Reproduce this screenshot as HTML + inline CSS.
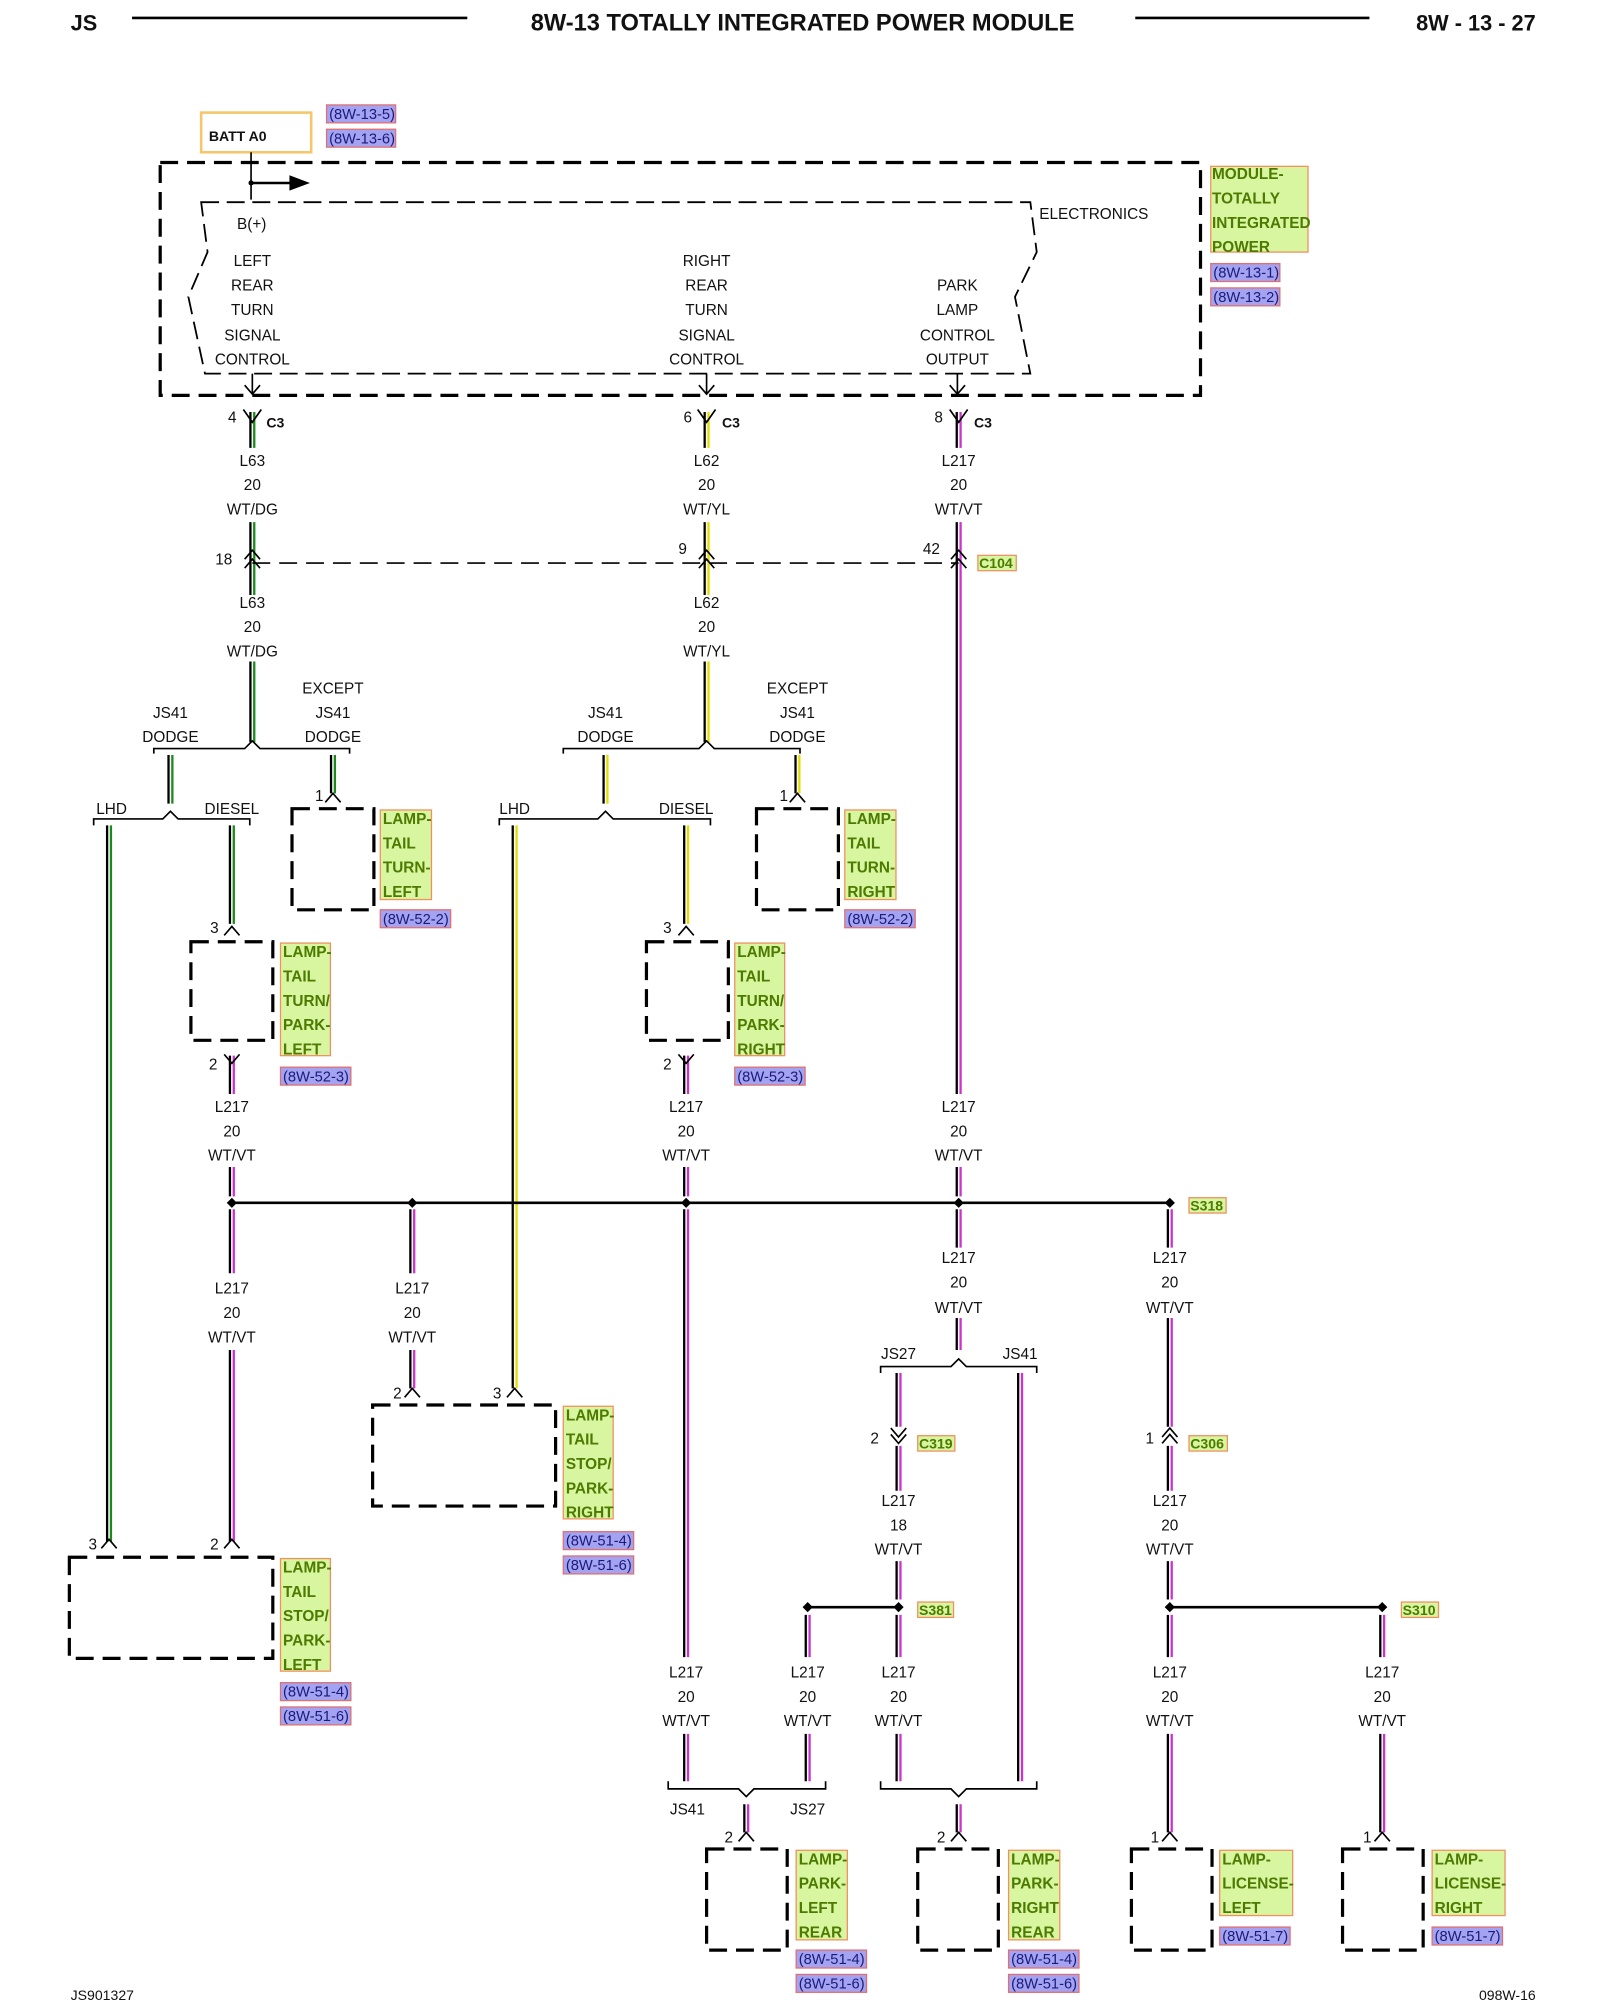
<!DOCTYPE html>
<html><head><meta charset="utf-8">
<style>
html,body{margin:0;padding:0;background:#fff;}
svg{display:block;}
text{font-family:"Liberation Sans",Arial,sans-serif;font-size:12px;fill:#111;}
.c{text-anchor:middle;}
.b{font-weight:bold;}
.lbl{fill:#4d7a00;font-weight:bold;font-size:12px;}
.ref{fill:#1a1a7a;font-size:11.5px;}
.box{fill:none;stroke:#000;stroke-width:2.5;stroke-dasharray:14 7;}
.pin{fill:none;stroke:#000;stroke-width:1.3;}
.ln{stroke:#000;stroke-width:2;fill:none;}
.thin{stroke:#000;stroke-width:1.3;fill:none;}
</style></head>
<body>
<svg width="1600" height="2000" viewBox="0 0 1250 1563" xmlns="http://www.w3.org/2000/svg">
<rect width="1250" height="1563" fill="#fff"/>
<!-- header -->
<text x="55" y="24" class="b" style="font-size:17px">JS</text>
<line x1="103" y1="14" x2="365" y2="14" class="ln" stroke-width="2.5"/>
<text x="627" y="24" class="b c" style="font-size:18.5px">8W-13 TOTALLY INTEGRATED POWER MODULE</text>
<line x1="887" y1="14" x2="1070" y2="14" class="ln" stroke-width="2.5"/>
<text x="1200" y="24" class="b" text-anchor="end" style="font-size:17px">8W - 13 - 27</text>

<!-- BATT -->
<rect x="157" y="88" width="86" height="31" fill="none" stroke="#f5c66a" stroke-width="2"/>
<text x="163" y="110" class="b" style="font-size:11px">BATT A0</text>
<g>
<rect x="255" y="82" width="54" height="14" fill="#a3a3f2" stroke="#e07070"/>
<text x="257" y="93" class="ref">(8W-13-5)</text>
<rect x="255" y="101" width="54" height="14" fill="#a3a3f2" stroke="#e07070"/>
<text x="257" y="112" class="ref">(8W-13-6)</text>
</g>

<!-- main module box -->
<rect x="125" y="127" width="813" height="182" class="box"/>
<line x1="196" y1="119" x2="196" y2="156" class="thin"/>
<line x1="196" y1="143" x2="228" y2="143" class="ln"/>
<path d="M226 137 L242 143 L226 149 Z" fill="#000"/>
<circle cx="196" cy="143" r="2" fill="#000"/>
<path d="M157 158 L805 158 L810 197 L793 232 L805 292 L160 292 L147 232 L162 197 Z" fill="none" stroke="#000" stroke-width="1.4" stroke-dasharray="14 6"/>
<text x="812" y="171">ELECTRONICS</text>
<text x="185" y="179">B(+)</text>
<g class="c">
<text x="197" y="208" class="c">LEFT</text><text x="197" y="227" class="c">REAR</text><text x="197" y="246" class="c">TURN</text><text x="197" y="266" class="c">SIGNAL</text><text x="197" y="285" class="c">CONTROL</text>
<text x="552" y="208" class="c">RIGHT</text><text x="552" y="227" class="c">REAR</text><text x="552" y="246" class="c">TURN</text><text x="552" y="266" class="c">SIGNAL</text><text x="552" y="285" class="c">CONTROL</text>
<text x="748" y="227" class="c">PARK</text><text x="748" y="246" class="c">LAMP</text><text x="748" y="266" class="c">CONTROL</text><text x="748" y="285" class="c">OUTPUT</text>
</g>
<path d="M197 292 V308 M191 301 L197 308 L203 301 M552 292 V308 M546 301 L552 308 L558 301 M748 292 V308 M742 301 L748 308 L754 301" class="thin"/>

<!-- module label -->
<rect x="946" y="130" width="76" height="67" fill="#d8f5a0" stroke="#f09060"/>
<text x="947" y="140" class="lbl">MODULE-</text><text x="947" y="159" class="lbl">TOTALLY</text><text x="947" y="178" class="lbl">INTEGRATED</text><text x="947" y="197" class="lbl">POWER</text>
<rect x="946" y="206" width="54" height="14" fill="#a3a3f2" stroke="#e07070"/><text x="948" y="217" class="ref">(8W-13-1)</text>
<rect x="946" y="225" width="54" height="14" fill="#a3a3f2" stroke="#e07070"/><text x="948" y="236" class="ref">(8W-13-2)</text>

<!-- wires -->
<g stroke-width="1.8" fill="none">
<g stroke="#1a8a1a"><g id="dg" transform="translate(1.5 0)">
<path d="M197 322V350M197 408V465M197 517V580M133 590V628M85 645V1205M181 645V722M260 590V620"/>
</g></g>
<g stroke="#e4dc00"><g id="yl" transform="translate(1.5 0)">
<path d="M552 322V350M552 408V465M552 517V580M473 590V628M402 645V1085M536 645V722M623 590V620"/>
</g></g>
<g stroke="#cc33cc"><g id="vt" transform="translate(1.5 0)">
<path d="M749 322V350M749 408V855M749 912V935M749 945V975M749 1030V1055M181 825V855M181 912V935M181 945V995M181 1055V1205M322 945V995M322 1055V1085M536 825V855M536 912V935M536 945V1295M536 1355V1392M583 1410V1432M631 1262V1295M631 1355V1392M702 1073V1115M702 1130V1165M702 1220V1250M702 1262V1295M702 1355V1392M797 1073V1392M749 1410V1432M914 945V975M914 1030V1115M914 1130V1165M914 1220V1250M914 1262V1295M914 1355V1432M1080 1262V1295M1080 1355V1432"/>
</g></g>
<use href="#dg" stroke="#000" transform="translate(-3 0)"/>
<use href="#yl" stroke="#000" transform="translate(-3 0)"/>
<use href="#vt" stroke="#000" transform="translate(-3 0)"/>
</g>

<!-- C3 pins -->
<path d="M190 320 L197 330 L204 320 M545 320 L552 330 L559 320 M742 320 L749 330 L756 320" class="pin"/>
<text x="178" y="330">4</text><text x="208" y="334" class="b" style="font-size:11px">C3</text>
<text x="534" y="330">6</text><text x="564" y="334" class="b" style="font-size:11px">C3</text>
<text x="730" y="330">8</text><text x="761" y="334" class="b" style="font-size:11px">C3</text>

<g>
<text x="197" y="364" class="c">L63</text><text x="197" y="383" class="c">20</text><text x="197" y="402" class="c">WT/DG</text>
<text x="552" y="364" class="c">L62</text><text x="552" y="383" class="c">20</text><text x="552" y="402" class="c">WT/YL</text>
<text x="749" y="364" class="c">L217</text><text x="749" y="383" class="c">20</text><text x="749" y="402" class="c">WT/VT</text>
<text x="197" y="475" class="c">L63</text><text x="197" y="494" class="c">20</text><text x="197" y="513" class="c">WT/DG</text>
<text x="552" y="475" class="c">L62</text><text x="552" y="494" class="c">20</text><text x="552" y="513" class="c">WT/YL</text>
</g>

<!-- C104 -->
<line x1="197" y1="440" x2="749" y2="440" class="thin" stroke-dasharray="14 7"/>
<path d="M191 437 L197 430 L203 437 M191 444 L197 437 L203 444 M546 437 L552 430 L558 437 M546 444 L552 437 L558 444 M743 437 L749 430 L755 437 M743 444 L749 437 L755 444" class="pin"/>
<text x="168" y="441">18</text><text x="530" y="433">9</text><text x="721" y="433">42</text>
<rect x="764" y="434" width="30" height="12" fill="#d8f5a0" stroke="#f09060"/><text x="765" y="444" class="lbl" style="font-size:11px">C104</text>

<path d="M120 589 V585 H191 L197 579 L203 585 H273 V589" class="thin"/>
<path d="M440 589 V585 H546 L552 579 L558 585 H625 V589" class="thin"/>
<path d="M73 645 V640 H127 L133 634 L139 640 H195 V645" class="thin"/>
<path d="M390 645 V640 H467 L473 634 L479 640 H555 V645" class="thin"/>
<text x="133" y="561" class="c">JS41</text><text x="133" y="580" class="c">DODGE</text>
<text x="260" y="542" class="c">EXCEPT</text><text x="260" y="561" class="c">JS41</text><text x="260" y="580" class="c">DODGE</text>
<text x="473" y="561" class="c">JS41</text><text x="473" y="580" class="c">DODGE</text>
<text x="623" y="542" class="c">EXCEPT</text><text x="623" y="561" class="c">JS41</text><text x="623" y="580" class="c">DODGE</text>
<text x="87" y="636" class="c">LHD</text><text x="181" y="636" class="c">DIESEL</text>
<text x="402" y="636" class="c">LHD</text><text x="536" y="636" class="c">DIESEL</text>

<path d="M254 627 L260 620 L266 627 M617 627 L623 620 L629 627 M175 731 L181 724 L187 731 M530 731 L536 724 L542 731 M175 824 L181 831 L187 824 M530 824 L536 831 L542 824 M316 1092 L322 1085 L328 1092 M396 1092 L402 1085 L408 1092 M79 1210 L85 1203 L91 1210 M175 1210 L181 1203 L187 1210 M577 1439 L583 1432 L589 1439 M743 1439 L749 1432 L755 1439 M908 1439 L914 1432 L920 1439 M1074 1439 L1080 1432 L1086 1439" class="pin"/>
<text x="246" y="626">1</text><text x="609" y="626">1</text>
<text x="164" y="729">3</text><text x="518" y="729">3</text>
<text x="163" y="836">2</text><text x="518" y="836">2</text>
<text x="307" y="1093">2</text><text x="385" y="1093">3</text>
<text x="69" y="1211">3</text><text x="164" y="1211">2</text>
<text x="566" y="1440">2</text><text x="732" y="1440">2</text><text x="899" y="1440">1</text><text x="1065" y="1440">1</text>

<rect x="228" y="632" width="64" height="79" class="box"/>
<rect x="591" y="632" width="64" height="79" class="box"/>
<rect x="149" y="736" width="64" height="77" class="box"/>
<rect x="505" y="736" width="64" height="77" class="box"/>
<rect x="291" y="1098" width="143" height="79" class="box"/>
<rect x="54" y="1217" width="159" height="79" class="box"/>
<rect x="552" y="1445" width="63" height="79" class="box"/>
<rect x="717" y="1445" width="63" height="79" class="box"/>
<rect x="884" y="1445" width="63" height="79" class="box"/>
<rect x="1049" y="1445" width="63" height="79" class="box"/>

<g>
<rect x="297" y="633" width="40" height="70" fill="#d8f5a0" stroke="#f09060"/>
<text x="299" y="644" class="lbl">LAMP-</text><text x="299" y="663" class="lbl">TAIL</text><text x="299" y="682" class="lbl">TURN-</text><text x="299" y="701" class="lbl">LEFT</text>
<rect x="297" y="711" width="55" height="14" fill="#a3a3f2" stroke="#e07070"/><text x="299" y="722" class="ref">(8W-52-2)</text>

<rect x="660" y="633" width="40" height="70" fill="#d8f5a0" stroke="#f09060"/>
<text x="662" y="644" class="lbl">LAMP-</text><text x="662" y="663" class="lbl">TAIL</text><text x="662" y="682" class="lbl">TURN-</text><text x="662" y="701" class="lbl">RIGHT</text>
<rect x="660" y="711" width="55" height="14" fill="#a3a3f2" stroke="#e07070"/><text x="662" y="722" class="ref">(8W-52-2)</text>

<rect x="219" y="737" width="39" height="88" fill="#d8f5a0" stroke="#f09060"/>
<text x="221" y="748" class="lbl">LAMP-</text><text x="221" y="767" class="lbl">TAIL</text><text x="221" y="786" class="lbl">TURN/</text><text x="221" y="805" class="lbl">PARK-</text><text x="221" y="824" class="lbl">LEFT</text>
<rect x="219" y="834" width="55" height="14" fill="#a3a3f2" stroke="#e07070"/><text x="221" y="845" class="ref">(8W-52-3)</text>

<rect x="574" y="737" width="39" height="88" fill="#d8f5a0" stroke="#f09060"/>
<text x="576" y="748" class="lbl">LAMP-</text><text x="576" y="767" class="lbl">TAIL</text><text x="576" y="786" class="lbl">TURN/</text><text x="576" y="805" class="lbl">PARK-</text><text x="576" y="824" class="lbl">RIGHT</text>
<rect x="574" y="834" width="55" height="14" fill="#a3a3f2" stroke="#e07070"/><text x="576" y="845" class="ref">(8W-52-3)</text>

<rect x="440" y="1099" width="39" height="88" fill="#d8f5a0" stroke="#f09060"/>
<text x="442" y="1110" class="lbl">LAMP-</text><text x="442" y="1129" class="lbl">TAIL</text><text x="442" y="1148" class="lbl">STOP/</text><text x="442" y="1167" class="lbl">PARK-</text><text x="442" y="1186" class="lbl">RIGHT</text>
<rect x="440" y="1197" width="55" height="14" fill="#a3a3f2" stroke="#e07070"/><text x="442" y="1208" class="ref">(8W-51-4)</text>
<rect x="440" y="1216" width="55" height="14" fill="#a3a3f2" stroke="#e07070"/><text x="442" y="1227" class="ref">(8W-51-6)</text>

<rect x="219" y="1218" width="39" height="88" fill="#d8f5a0" stroke="#f09060"/>
<text x="221" y="1229" class="lbl">LAMP-</text><text x="221" y="1248" class="lbl">TAIL</text><text x="221" y="1267" class="lbl">STOP/</text><text x="221" y="1286" class="lbl">PARK-</text><text x="221" y="1305" class="lbl">LEFT</text>
<rect x="219" y="1315" width="55" height="14" fill="#a3a3f2" stroke="#e07070"/><text x="221" y="1326" class="ref">(8W-51-4)</text>
<rect x="219" y="1334" width="55" height="14" fill="#a3a3f2" stroke="#e07070"/><text x="221" y="1345" class="ref">(8W-51-6)</text>

<rect x="622" y="1446" width="40" height="70" fill="#d8f5a0" stroke="#f09060"/>
<text x="624" y="1457" class="lbl">LAMP-</text><text x="624" y="1476" class="lbl">PARK-</text><text x="624" y="1495" class="lbl">LEFT</text><text x="624" y="1514" class="lbl">REAR</text>
<rect x="622" y="1524" width="55" height="14" fill="#a3a3f2" stroke="#e07070"/><text x="624" y="1535" class="ref">(8W-51-4)</text>
<rect x="622" y="1543" width="55" height="14" fill="#a3a3f2" stroke="#e07070"/><text x="624" y="1554" class="ref">(8W-51-6)</text>

<rect x="788" y="1446" width="40" height="70" fill="#d8f5a0" stroke="#f09060"/>
<text x="790" y="1457" class="lbl">LAMP-</text><text x="790" y="1476" class="lbl">PARK-</text><text x="790" y="1495" class="lbl">RIGHT</text><text x="790" y="1514" class="lbl">REAR</text>
<rect x="788" y="1524" width="55" height="14" fill="#a3a3f2" stroke="#e07070"/><text x="790" y="1535" class="ref">(8W-51-4)</text>
<rect x="788" y="1543" width="55" height="14" fill="#a3a3f2" stroke="#e07070"/><text x="790" y="1554" class="ref">(8W-51-6)</text>

<rect x="953" y="1446" width="57" height="51" fill="#d8f5a0" stroke="#f09060"/>
<text x="955" y="1457" class="lbl">LAMP-</text><text x="955" y="1476" class="lbl">LICENSE-</text><text x="955" y="1495" class="lbl">LEFT</text>
<rect x="953" y="1506" width="55" height="14" fill="#a3a3f2" stroke="#e07070"/><text x="955" y="1517" class="ref">(8W-51-7)</text>

<rect x="1119" y="1446" width="57" height="51" fill="#d8f5a0" stroke="#f09060"/>
<text x="1121" y="1457" class="lbl">LAMP-</text><text x="1121" y="1476" class="lbl">LICENSE-</text><text x="1121" y="1495" class="lbl">RIGHT</text>
<rect x="1119" y="1506" width="55" height="14" fill="#a3a3f2" stroke="#e07070"/><text x="1121" y="1517" class="ref">(8W-51-7)</text>
</g>

<g>
<text x="181" y="869" class="c">L217</text><text x="181" y="888" class="c">20</text><text x="181" y="907" class="c">WT/VT</text>
<text x="536" y="869" class="c">L217</text><text x="536" y="888" class="c">20</text><text x="536" y="907" class="c">WT/VT</text>
<text x="749" y="869" class="c">L217</text><text x="749" y="888" class="c">20</text><text x="749" y="907" class="c">WT/VT</text>
<text x="181" y="1011" class="c">L217</text><text x="181" y="1030" class="c">20</text><text x="181" y="1049" class="c">WT/VT</text>
<text x="322" y="1011" class="c">L217</text><text x="322" y="1030" class="c">20</text><text x="322" y="1049" class="c">WT/VT</text>
<text x="749" y="987" class="c">L217</text><text x="749" y="1006" class="c">20</text><text x="749" y="1026" class="c">WT/VT</text>
<text x="914" y="987" class="c">L217</text><text x="914" y="1006" class="c">20</text><text x="914" y="1026" class="c">WT/VT</text>
<text x="702" y="1177" class="c">L217</text><text x="702" y="1196" class="c">18</text><text x="702" y="1215" class="c">WT/VT</text>
<text x="914" y="1177" class="c">L217</text><text x="914" y="1196" class="c">20</text><text x="914" y="1215" class="c">WT/VT</text>
<text x="536" y="1311" class="c">L217</text><text x="536" y="1330" class="c">20</text><text x="536" y="1349" class="c">WT/VT</text>
<text x="631" y="1311" class="c">L217</text><text x="631" y="1330" class="c">20</text><text x="631" y="1349" class="c">WT/VT</text>
<text x="702" y="1311" class="c">L217</text><text x="702" y="1330" class="c">20</text><text x="702" y="1349" class="c">WT/VT</text>
<text x="914" y="1311" class="c">L217</text><text x="914" y="1330" class="c">20</text><text x="914" y="1349" class="c">WT/VT</text>
<text x="1080" y="1311" class="c">L217</text><text x="1080" y="1330" class="c">20</text><text x="1080" y="1349" class="c">WT/VT</text>
</g>

<line x1="181" y1="940" x2="914" y2="940" class="ln"/>
<line x1="631" y1="1256" x2="702" y2="1256" class="ln"/>
<line x1="914" y1="1256" x2="1080" y2="1256" class="ln"/>
<g fill="#000">
<path d="M181 936 L185 940 L181 944 L177 940Z M322 936 L326 940 L322 944 L318 940Z M536 936 L540 940 L536 944 L532 940Z M749 936 L753 940 L749 944 L745 940Z M914 936 L918 940 L914 944 L910 940Z M631 1252 L635 1256 L631 1260 L627 1256Z M702 1252 L706 1256 L702 1260 L698 1256Z M914 1252 L918 1256 L914 1260 L910 1256Z M1080 1252 L1084 1256 L1080 1260 L1076 1256Z"/>
</g>
<rect x="929" y="936" width="29" height="12" fill="#d8f5a0" stroke="#f09060"/><text x="930" y="946" class="lbl" style="font-size:11px">S318</text>
<rect x="717" y="1252" width="28" height="12" fill="#d8f5a0" stroke="#f09060"/><text x="718" y="1262" class="lbl" style="font-size:11px">S381</text>
<rect x="1095" y="1252" width="29" height="12" fill="#d8f5a0" stroke="#f09060"/><text x="1096" y="1262" class="lbl" style="font-size:11px">S310</text>

<path d="M688 1073 V1068 H743 L749 1062 L755 1068 H810 V1073" class="thin"/>
<text x="702" y="1062" class="c">JS27</text><text x="797" y="1062" class="c">JS41</text>
<path d="M522 1392 V1398 H577 L583 1404 L589 1398 H645 V1392" class="thin"/>
<text x="537" y="1418" class="c">JS41</text><text x="631" y="1418" class="c">JS27</text>
<path d="M688 1392 V1398 H743 L749 1404 L755 1398 H810 V1392" class="thin"/>

<path d="M696 1116 L702 1123 L708 1116 M696 1121 L702 1128 L708 1121" class="pin"/>
<text x="680" y="1128">2</text>
<rect x="717" y="1122" width="29" height="12" fill="#d8f5a0" stroke="#f09060"/><text x="718" y="1132" class="lbl" style="font-size:11px">C319</text>
<path d="M908 1123 L914 1116 L920 1123 M908 1128 L914 1121 L920 1128" class="pin"/>
<text x="895" y="1128">1</text>
<rect x="929" y="1122" width="30" height="12" fill="#d8f5a0" stroke="#f09060"/><text x="930" y="1132" class="lbl" style="font-size:11px">C306</text>

<text x="55" y="1563" style="font-size:11px">JS901327</text>
<text x="1200" y="1563" text-anchor="end" style="font-size:11px">098W-16</text>
</svg>
</body></html>
